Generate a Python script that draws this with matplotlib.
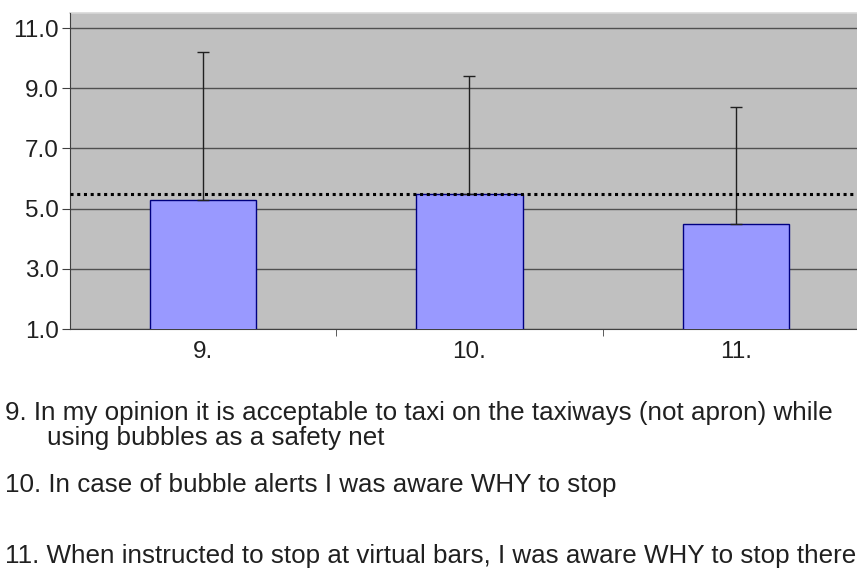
import numpy as np
import matplotlib
matplotlib.use("Agg")
import matplotlib.pyplot as plt

# data
categories = ["9.", "10.", "11."]
means = [5.27, 5.47, 4.50]
upper_err = [4.92, 3.93, 3.88]
reference_level = 5.5
y_ticks = [1.0, 3.0, 5.0, 7.0, 9.0, 11.0]

statements = [
    "9. In my opinion it is acceptable to taxi on the taxiways (not apron) while",
    "using bubbles as a safety net",
    "10. In case of bubble alerts I was aware WHY to stop",
    "11. When instructed to stop at virtual bars, I was aware WHY to stop there",
]

plt.rcParams["font.family"] = ["Liberation Sans", "DejaVu Sans"]

fig = plt.figure(figsize=(8.57, 5.81), dpi=100)
ax = fig.add_axes([70 / 857, 1 - 329 / 581, 1 - 70 / 857, 316 / 581])
ax.set_facecolor("#c0c0c0")

x = np.arange(len(categories))
ax.bar(x, means, width=0.4, color="#9999ff", edgecolor="#000080",
       linewidth=1.0, zorder=3)
ax.errorbar(x, means, yerr=[np.zeros(len(x)), upper_err], fmt="none",
            ecolor="#202020", elinewidth=1.0, capsize=4, capthick=1.0, zorder=4)
ax.axhline(reference_level, color="black", linestyle=(0, (1, 1.2)), linewidth=2.2, zorder=5)

ax.set_ylim(1.0, 11.5)
ax.set_xlim(-0.5, 2.455)
ax.set_yticks(y_ticks)
ax.set_yticklabels([f"{v:.1f}" for v in y_ticks], fontsize=17.5, color="#202020")
ax.yaxis.grid(True, color="#505050", linewidth=1.0, zorder=1)
ax.set_axisbelow(True)

ax.set_xticks(x)
ax.set_xticklabels(categories, fontsize=17.5, color="#202020")
ax.tick_params(axis="x", length=0, pad=9)
ax.set_xticks([0.5, 1.5], minor=True)
ax.tick_params(axis="x", which="minor", length=5, color="#404040")
ax.tick_params(axis="y", length=6, color="#404040", pad=2)

for s in ["top", "right"]:
    ax.spines[s].set_visible(False)
ax.spines["left"].set_color("#404040")
ax.spines["bottom"].set_color("#404040")
# thin light edge along the top of the plot area
ax.axhline(11.5, color="#d8d8d8", linewidth=1.2, zorder=2, clip_on=False)

text_x = [5, 47, 5, 5]
baselines = [420, 445, 492, 563]
for txt, xp, yp in zip(statements, text_x, baselines):
    fig.text(xp / 857, 1 - yp / 581, txt, fontsize=18.7,
             ha="left", va="baseline", color="#202020")

fig.savefig("out.png", dpi=100)
